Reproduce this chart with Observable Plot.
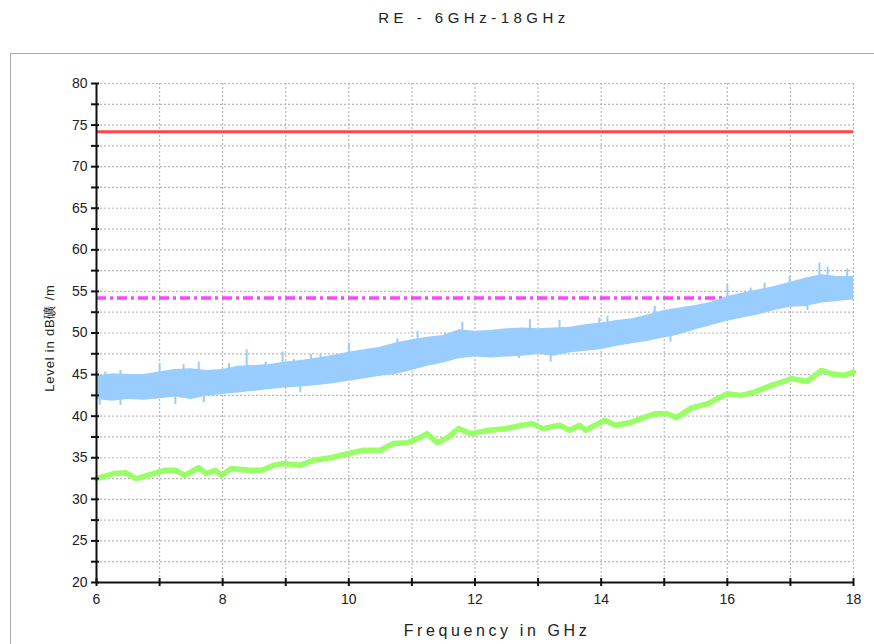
<!DOCTYPE html>
<html>
<head>
<meta charset="utf-8">
<script src="https://cdn.jsdelivr.net/npm/d3@7"></script>
<script src="https://cdn.jsdelivr.net/npm/@observablehq/plot@0.6"></script>
<style>
  body { margin: 0; background: #fff; font-family: "Liberation Sans", Arial, sans-serif; }
  #wrap { position: relative; width: 874px; height: 644px; overflow: hidden; }
  #frame { position: absolute; left: 10px; top: 53px; width: 900px; height: 620px; border: 1.5px solid #aaa; box-sizing: border-box; }
  #title { position: absolute; top: 9px; left: 0; width: 948px; text-align: center; font-size: 15px; letter-spacing: 4.5px; color: #222; }
  #chart { position: absolute; top: 53px; left: 0; }
  #xlabel { position: absolute; top: 622px; left: 0; width: 994px; text-align: center; font-size: 16px; letter-spacing: 3.6px; color: #222; }
  #ylabel { position: absolute; left: 50px; top: 338px; transform: translate(-50%, -50%) rotate(-90deg); white-space: nowrap; font-size: 13px; letter-spacing: 0.8px; color: #222; }
</style>
</head>
<body>
<div id="wrap">
  <div id="frame"></div>
  <div id="title">RE - 6GHz-18GHz</div>
  <div id="chart"></div>
  <div id="xlabel">Frequency in GHz</div>
  <div id="ylabel">Level in dB礦 /m</div>
</div>
<script>
// Tick values
const xTicks = [6, 7, 8, 9, 10, 11, 12, 13, 14, 15, 16, 17, 18];
const yTicks = [20, 22.5, 25, 27.5, 30, 32.5, 35, 37.5, 40, 42.5, 45, 47.5, 50, 52.5, 55, 57.5, 60, 62.5, 65, 67.5, 70, 72.5, 75, 77.5, 80];

// Limit lines (dB)
const limitRed = 74.2;
const limitMagenta = 54.2;

// Blue trace (peak noise) envelope: frequency, lower and upper level
const blueFreq = [6.00, 6.25, 6.50, 6.75, 7.00, 7.25, 7.50, 7.75, 8.00, 8.25, 8.50, 8.75, 9.00, 9.25, 9.50, 9.75, 10.00, 10.25, 10.50, 10.75, 11.00, 11.25, 11.50, 11.75, 12.00, 12.25, 12.50, 12.75, 13.00, 13.25, 13.50, 13.75, 14.00, 14.25, 14.50, 14.75, 15.00, 15.25, 15.50, 15.75, 16.00, 16.25, 16.50, 16.75, 17.00, 17.25, 17.50, 17.75, 18.00];
const blueLow  = [42.0, 41.8, 42.0, 41.9, 42.1, 42.3, 42.0, 42.4, 42.6, 42.8, 43.0, 43.2, 43.4, 43.5, 43.7, 43.9, 44.2, 44.5, 44.8, 45.0, 45.5, 46.0, 46.4, 46.9, 47.1, 47.0, 47.1, 47.2, 47.4, 47.2, 47.6, 47.8, 48.0, 48.4, 48.7, 49.0, 49.4, 49.8, 50.4, 50.9, 51.4, 51.8, 52.2, 52.7, 53.1, 53.2, 53.6, 53.8, 54.0];
const blueHigh = [44.8, 45.1, 45.0, 45.0, 45.3, 45.6, 45.7, 45.5, 45.6, 46.0, 46.1, 46.2, 46.5, 46.7, 47.0, 47.3, 47.7, 48.0, 48.3, 48.8, 49.2, 49.5, 49.7, 50.4, 50.2, 50.3, 50.5, 50.6, 50.5, 50.6, 50.7, 51.0, 51.2, 51.5, 51.7, 52.2, 52.7, 53.0, 53.3, 53.7, 54.4, 54.8, 55.2, 55.6, 56.1, 56.6, 57.0, 56.8, 56.8];

// Blue trace individual spikes and dips: frequency, from, to
const spikeFreq = [6.03, 6.14, 6.25, 6.38, 7.00, 7.38, 7.62, 8.10, 8.38, 8.68, 8.95, 9.13, 9.40, 9.55, 10.00, 10.77, 11.09, 11.53, 11.80, 12.87, 13.34, 13.97, 14.10, 14.85, 16.00, 16.37, 16.59, 16.99, 17.46, 17.59, 17.90];
const spikeFrom = [43.5, 43.5, 43.5, 43.5, 44.5, 44.5, 44.5, 44.5, 45.0, 45.0, 45.5, 45.5, 46.0, 46.0, 46.5, 47.0, 48.0, 48.0, 48.5, 49.0, 49.0, 49.5, 50.0, 51.0, 53.0, 53.5, 54.0, 55.0, 56.0, 56.0, 56.0];
const spikeTo   = [44.5, 45.3, 45.0, 45.5, 46.3, 46.2, 46.5, 46.3, 48.0, 46.5, 47.7, 46.8, 47.4, 47.4, 48.8, 49.3, 50.2, 50.0, 51.3, 51.6, 51.5, 51.8, 52.0, 53.2, 55.8, 55.4, 56.0, 56.8, 58.4, 57.9, 57.7];
const dipFreq = [6.05, 6.38, 7.25, 7.70, 9.23, 12.70, 13.20, 15.10, 17.27];
const dipFrom = [43.0, 43.0, 43.5, 43.5, 44.5, 48.5, 48.5, 50.5, 54.5];
const dipTo   = [41.3, 41.3, 41.4, 41.6, 42.8, 46.9, 46.5, 48.9, 52.7];

// Green trace (average)
const greenFreq = [6.00, 6.27, 6.46, 6.63, 6.82, 7.10, 7.25, 7.40, 7.62, 7.74, 7.88, 7.98, 8.14, 8.41, 8.62, 8.81, 8.96, 9.23, 9.44, 9.71, 9.98, 10.23, 10.50, 10.70, 10.93, 11.09, 11.24, 11.40, 11.56, 11.74, 11.93, 12.23, 12.48, 12.75, 12.91, 13.07, 13.34, 13.50, 13.66, 13.75, 14.05, 14.23, 14.45, 14.66, 14.86, 15.05, 15.19, 15.43, 15.69, 15.84, 16.00, 16.22, 16.43, 16.70, 17.02, 17.27, 17.49, 17.65, 17.86, 18.00];
const greenLevel = [32.5, 33.1, 33.2, 32.5, 32.9, 33.5, 33.5, 32.9, 33.8, 33.1, 33.5, 32.9, 33.7, 33.5, 33.5, 34.1, 34.3, 34.1, 34.7, 35.0, 35.5, 35.9, 35.9, 36.7, 36.8, 37.3, 37.9, 36.8, 37.4, 38.5, 37.9, 38.3, 38.5, 38.9, 39.1, 38.5, 38.9, 38.3, 38.9, 38.3, 39.5, 38.9, 39.2, 39.8, 40.3, 40.3, 39.8, 41.0, 41.5, 42.1, 42.7, 42.5, 42.9, 43.7, 44.5, 44.2, 45.5, 45.1, 44.9, 45.3];

const blue = blueFreq.map((f, i) => ({f, lo: blueLow[i], hi: blueHigh[i]}));
const spikes = spikeFreq.map((f, i) => ({f, a: spikeFrom[i], b: spikeTo[i]}))
  .concat(dipFreq.map((f, i) => ({f, a: dipFrom[i], b: dipTo[i]})));
const green = greenFreq.map((f, i) => ({f, v: greenLevel[i]}));

const chart = Plot.plot({
  width: 874,
  height: 591,
  marginTop: 30,
  marginBottom: 62,
  marginLeft: 96,
  marginRight: 21,
  x: {domain: [6, 18]},
  y: {domain: [20, 80]},
  style: {fontFamily: "'Liberation Sans', Arial, sans-serif", fontSize: "14px", color: "#222", background: "transparent", overflow: "visible"},
  marks: [
    Plot.gridY(yTicks, {stroke: "#b8b8b8", strokeOpacity: 1, strokeWidth: 1.2, strokeDasharray: "2,2"}),
    Plot.gridX(xTicks, {stroke: "#b8b8b8", strokeOpacity: 1, strokeWidth: 1.2, strokeDasharray: "2,2"}),
    Plot.ruleY([limitRed], {x1: 6, x2: 18, stroke: "#ff4747", strokeWidth: 3}),
    Plot.ruleY([limitMagenta], {x1: 6, x2: 18, stroke: "#ff44ff", strokeWidth: 3.5, strokeDasharray: "10,4,3,4"}),
    Plot.areaY(blue, {x: "f", y1: "lo", y2: "hi", fill: "#99ccff", curve: "linear"}),
    Plot.ruleX(spikes, {x: "f", y1: "a", y2: "b", stroke: "#99ccff", strokeWidth: 2}),
    Plot.line(green, {x: "f", y: "v", stroke: "#99ff66", strokeWidth: 5.5, curve: "linear"}),
    Plot.ruleX([6], {stroke: "#111", strokeWidth: 2}),
    Plot.ruleY([20], {stroke: "#111", strokeWidth: 2}),
    Plot.axisY({ticks: yTicks, tickSize: 5, tickPadding: 4, stroke: "#111", strokeWidth: 2, tickFormat: d => d % 5 === 0 ? String(d) : "", label: null}),
    Plot.axisY({ticks: yTicks, tickSize: -3, stroke: "#111", strokeWidth: 2, tickFormat: () => "", label: null}),
    Plot.axisX({ticks: xTicks, tickSize: 4, tickPadding: 8, stroke: "#111", strokeWidth: 2, tickFormat: d => d % 2 === 0 ? String(d) : "", label: null}),
    Plot.axisX({ticks: xTicks, tickSize: -4, stroke: "#111", strokeWidth: 2, tickFormat: () => "", label: null})
  ]
});
document.getElementById("chart").appendChild(chart);
</script>
</body>
</html>
